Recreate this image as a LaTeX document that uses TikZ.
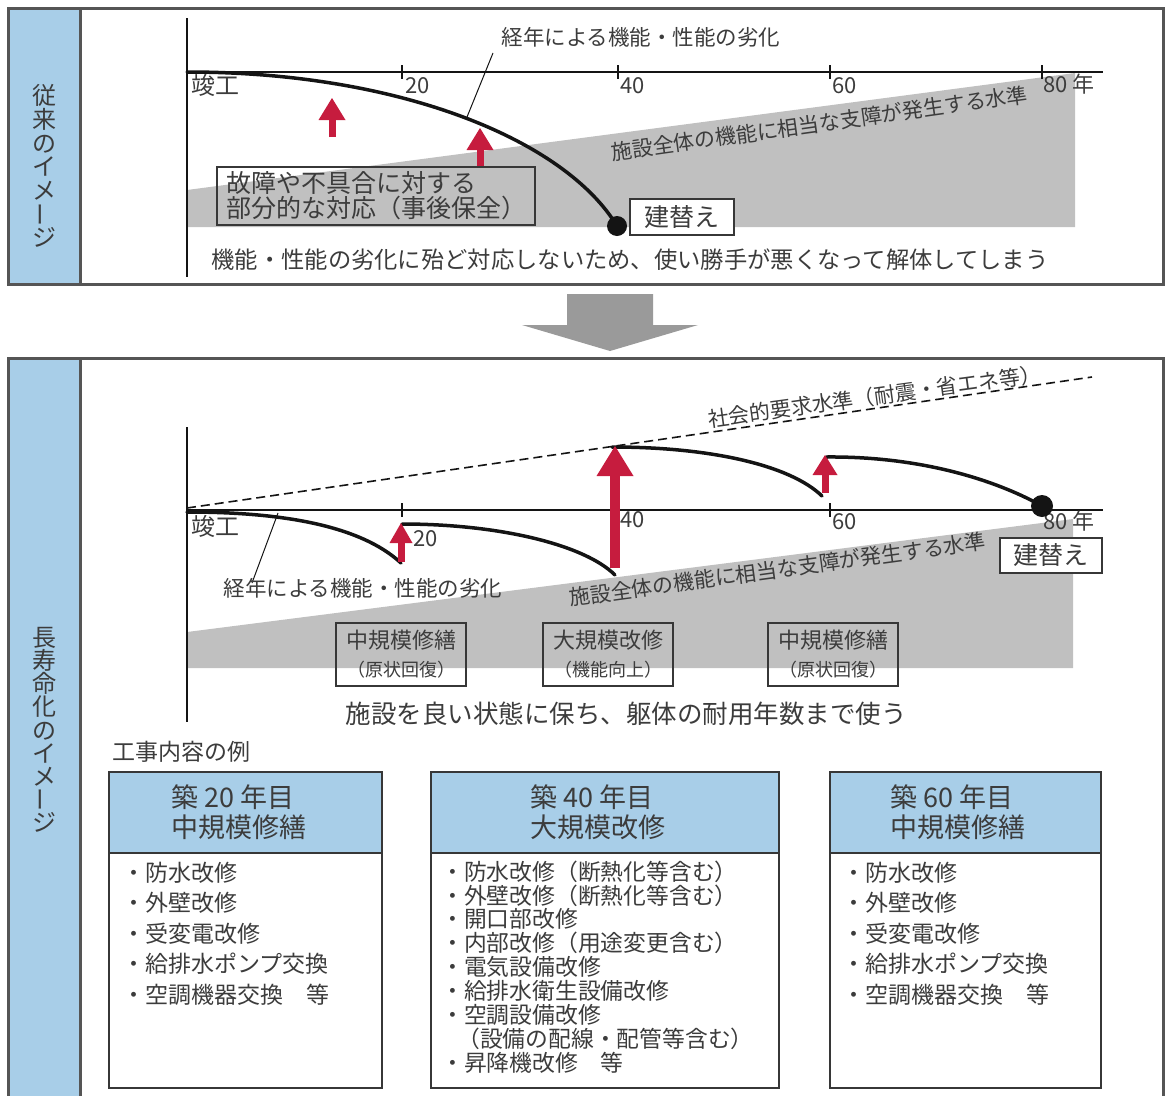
\documentclass[tikz,border=0pt]{standalone}
\usepackage{fontspec}
\usepackage{graphicx}
\setmainfont{Noto Sans CJK JP}
\usetikzlibrary{arrows.meta}
\definecolor{bluec}{RGB}{168,206,232}
\definecolor{grayc}{RGB}{192,192,192}
\definecolor{arrowgray}{RGB}{154,154,154}
\definecolor{redc}{RGB}{198,28,62}
\definecolor{textc}{RGB}{60,60,60}
\definecolor{framec}{RGB}{85,85,85}
\definecolor{linec}{RGB}{20,20,20}
\newcommand\jfs[1]{\fontsize{#1}{#1}\selectfont}
\begin{document}
\begin{tikzpicture}[x=1pt,y=-1pt,line join=miter,
  txt/.style={text=textc,inner sep=0pt,text height=0.84em,text depth=0.16em},
  panel/.style={draw=framec,line width=3pt},
  sidebar/.style={fill=bluec,draw=framec,line width=3pt},
  ax/.style={draw=linec,line width=2pt},
  curve/.style={draw=linec,line width=3.5pt,line cap=round},
  leader/.style={draw=linec,line width=1pt},
  redarr/.style n args={3}{draw=redc,line width=#1,-{Triangle[width=#2,length=#3,line width=0pt]}},
  lbox/.style={draw=linec!85,line width=2pt,text=textc,inner sep=0pt},
  endmark/.style={circle,fill=linec,inner sep=0pt,minimum size=#1},
  listbox/.style={draw=linec!85,line width=2pt}]
\useasboundingbox (0,0) rectangle (1166,1095);

% ================= TOP PANEL =================
\draw[panel] (8,8) rectangle (1163,284);
\filldraw[sidebar] (8,8) rectangle (80,284);
\node[text=textc,inner sep=0pt,align=center,font=\fontsize{24}{23.6}\selectfont] (side1) at (44,166)
  {従\\来\\の\\イ\\メ\\\raisebox{0.15em}{\rotatebox[origin=c]{90}{ー}}\\ジ};

\fill[grayc] (187,190) -- (1075,73) -- (1075,227) -- (187,227) -- cycle;

\draw[ax] (187,18) -- (187,277);
\draw[ax] (187,72) -- (1103,72);
\foreach \x in {402,618,830,1042} \draw[ax] (\x,65) -- (\x,79);

\node[txt,font=\jfs{24},anchor=west] (k1) at (191,91) {竣工};
\node[txt,font=\jfs{22},anchor=west] (y20a) at (405,90) {20};
\node[txt,font=\jfs{22},anchor=west] (y40a) at (620,90) {40};
\node[txt,font=\jfs{22},anchor=west] (y60a) at (832,90) {60};
\node[txt,font=\jfs{22},anchor=west] (y80a) at (1043,89) {80 年};

\coordinate (c1s) at (187,72);
\coordinate (c1e) at (617,226);
\draw[curve] (c1s) .. controls (400,72) and (565,140) .. (c1e);
\node[endmark=20pt] (dot1) at (c1e) {};

\node[txt,font=\jfs{21.5}] (deg1) at (641,42) {経年による機能・性能の劣化};
\coordinate (l1a) at (493,53);
\coordinate (l1b) at (467,117);
\draw[leader] (l1a) -- (l1b);

\node[txt,font=\jfs{21},rotate=8] (lvl1) at (820,128) {施設全体の機能に相当な支障が発生する水準};

\coordinate (a1s) at (332,137); \coordinate (a1e) at (332,98);
\coordinate (a2s) at (480,167); \coordinate (a2e) at (480,128);
\draw[redarr={7pt}{27pt}{22pt}] (a1s) -- (a1e);
\draw[redarr={7pt}{27pt}{22pt}] (a2s) -- (a2e);

\node[lbox,align=left,font=\fontsize{25}{25}\selectfont,minimum width=318pt,minimum height=58pt] (fix) at (376,196)
  {故障や不具合に対する\\部分的な対応（事後保全）};
\node[lbox,fill=white,font=\jfs{25},minimum width=104pt,minimum height=36pt] (re1) at (682,217) {建替え};

\node[txt,font=\jfs{23.3}] (note1) at (630,265) {機能・性能の劣化に殆ど対応しないため、使い勝手が悪くなって解体してしまう};

% ================= ARROW BETWEEN =================
\fill[arrowgray] (567,294) -- (653,294) -- (653,325) -- (698,325) -- (610,351) -- (522,325) -- (567,325) -- cycle;

% ================= BOTTOM PANEL =================
\draw[panel] (8,358) rectangle (1163,1120);
\filldraw[sidebar] (8,358) rectangle (80,1120);
\node[text=textc,inner sep=0pt,align=center,font=\fontsize{24}{23.2}\selectfont] (side2) at (44,730)
  {長\\寿\\命\\化\\の\\イ\\メ\\\raisebox{0.15em}{\rotatebox[origin=c]{90}{ー}}\\ジ};

\fill[grayc] (187,632) -- (1073,519) -- (1073,668) -- (187,668) -- cycle;

\draw[ax] (187,427) -- (187,722);
\draw[ax] (187,510) -- (1103,510);
\foreach \x in {402,618,830,1042} \draw[ax] (\x,503) -- (\x,517);

\coordinate (d1) at (187,508);
\coordinate (d2) at (1092,377);
\draw[draw=linec,line width=1.6pt,dash pattern=on 9pt off 5pt] (d1) -- (d2);

\node[txt,font=\jfs{24},anchor=west] (k2) at (191,532) {竣工};
\node[txt,font=\jfs{22},anchor=west] (y20b) at (413,543) {20};
\node[txt,font=\jfs{22},anchor=west] (y40b) at (620,524) {40};
\node[txt,font=\jfs{22},anchor=west] (y60b) at (832,526) {60};
\node[txt,font=\jfs{22},anchor=west] (y80b) at (1043,526) {80 年};

\coordinate (s1a) at (187,512); \coordinate (s1b) at (401,563);
\coordinate (s2a) at (402,524); \coordinate (s2b) at (615,575);
\coordinate (s3a) at (612,447); \coordinate (s3b) at (822,496);
\coordinate (s4a) at (826,457); \coordinate (s4b) at (1042,506);
\draw[curve] (s1a) .. controls (280,512) and (360,525) .. (s1b);
\draw[curve] (s2a) .. controls (500,524) and (585,545) .. (s2b);
\draw[curve] (s3a) .. controls (710,447) and (790,465) .. (s3b);
\draw[curve] (s4a) .. controls (930,456) and (1005,485) .. (s4b);
\node[endmark=22pt] (dot2) at (s4b) {};

\coordinate (b1s) at (401,562); \coordinate (b1e) at (401,523);
\coordinate (b2s) at (615,568); \coordinate (b2e) at (615,446);
\coordinate (b3s) at (825,493); \coordinate (b3e) at (825,455);
\draw[redarr={7pt}{23pt}{20pt}] (b1s) -- (b1e);
\draw[redarr={10pt}{37pt}{30pt}] (b2s) -- (b2e);
\draw[redarr={7pt}{25pt}{20pt}] (b3s) -- (b3e);

\coordinate (l2a) at (278,513);
\coordinate (l2b) at (252,583);
\draw[leader] (l2a) -- (l2b);
\node[txt,font=\jfs{21.5}] (deg2) at (363,593) {経年による機能・性能の劣化};

\node[txt,font=\jfs{21},rotate=7.8] (soc) at (875,401) {社会的要求水準（耐震・省エネ等）};
\node[txt,font=\jfs{21},rotate=7.8] (lvl2) at (778,574) {施設全体の機能に相当な支障が発生する水準};

\node[lbox,minimum width=130pt,minimum height=63pt] (m1) at (401,654.5) {};
\node[txt,font=\jfs{22}] (m1a) at (401,645) {中規模修繕};
\node[txt,font=\jfs{18}] (m1b) at (401,673) {（原状回復）};
\node[lbox,minimum width=130pt,minimum height=63pt] (m2) at (608,654.5) {};
\node[txt,font=\jfs{22}] (m2a) at (608,645) {大規模改修};
\node[txt,font=\jfs{18}] (m2b) at (608,673) {（機能向上）};
\node[lbox,minimum width=130pt,minimum height=63pt] (m3) at (833,654.5) {};
\node[txt,font=\jfs{22}] (m3a) at (833,645) {中規模修繕};
\node[txt,font=\jfs{18}] (m3b) at (833,673) {（原状回復）};

\node[lbox,fill=white,font=\jfs{25},minimum width=102pt,minimum height=35pt] (re2) at (1051,555.5) {建替え};

\node[txt,font=\jfs{25.5}] (goal) at (626,720) {施設を良い状態に保ち、躯体の耐用年数まで使う};

\node[txt,font=\jfs{23},anchor=west] (ex) at (112,757) {工事内容の例};

% boxes
\filldraw[listbox,fill=bluec] (109,772) rectangle (382,853);
\draw[listbox] (109,772) rectangle (382,1088);
\filldraw[listbox,fill=bluec] (431,772) rectangle (779,853);
\draw[listbox] (431,772) rectangle (779,1088);
\filldraw[listbox,fill=bluec] (830,772) rectangle (1101,853);
\draw[listbox] (830,772) rectangle (1101,1088);

\node[text=textc,inner sep=0pt,align=left,font=\fontsize{27}{30}\selectfont] (h1) at (239,812) {築 20 年目\\中規模修繕};
\node[text=textc,inner sep=0pt,align=left,font=\fontsize{27}{30}\selectfont] (h2) at (598,812) {築 40 年目\\大規模改修};
\node[text=textc,inner sep=0pt,align=left,font=\fontsize{27}{30}\selectfont] (h3) at (958,812) {築 60 年目\\中規模修繕};

\foreach \t [count=\i] in {防水改修,外壁改修,受変電改修,給排水ポンプ交換,空調機器交換　等}
  \node[txt,font=\jfs{23},anchor=west] (p\i) at (122,{878+30.5*(\i-1)}) {・\t};
\foreach \t [count=\i] in {防水改修,外壁改修,受変電改修,給排水ポンプ交換,空調機器交換　等}
  \node[txt,font=\jfs{23},anchor=west] (r\i) at (842,{878+30.5*(\i-1)}) {・\t};

\node[txt,font=\jfs{22.8},anchor=west] (q1) at (441,877) {・防水改修（断熱化等含む）};
\node[txt,font=\jfs{22.8},anchor=west] (q2) at (441,901) {・外壁改修（断熱化等含む）};
\node[txt,font=\jfs{22.8},anchor=west] (q3) at (441,924) {・開口部改修};
\node[txt,font=\jfs{22.8},anchor=west] (q4) at (441,948) {・内部改修（用途変更含む）};
\node[txt,font=\jfs{22.8},anchor=west] (q5) at (441,972) {・電気設備改修};
\node[txt,font=\jfs{22.8},anchor=west] (q6) at (441,996) {・給排水衛生設備改修};
\node[txt,font=\jfs{22.8},anchor=west] (q7) at (441,1020) {・空調設備改修};
\node[txt,font=\jfs{22.8},anchor=west] (q8) at (457,1044) {（設備の配線・配管等含む）};
\node[txt,font=\jfs{22.8},anchor=west] (q9) at (441,1068) {・昇降機改修　等};
\end{tikzpicture}
\end{document}
